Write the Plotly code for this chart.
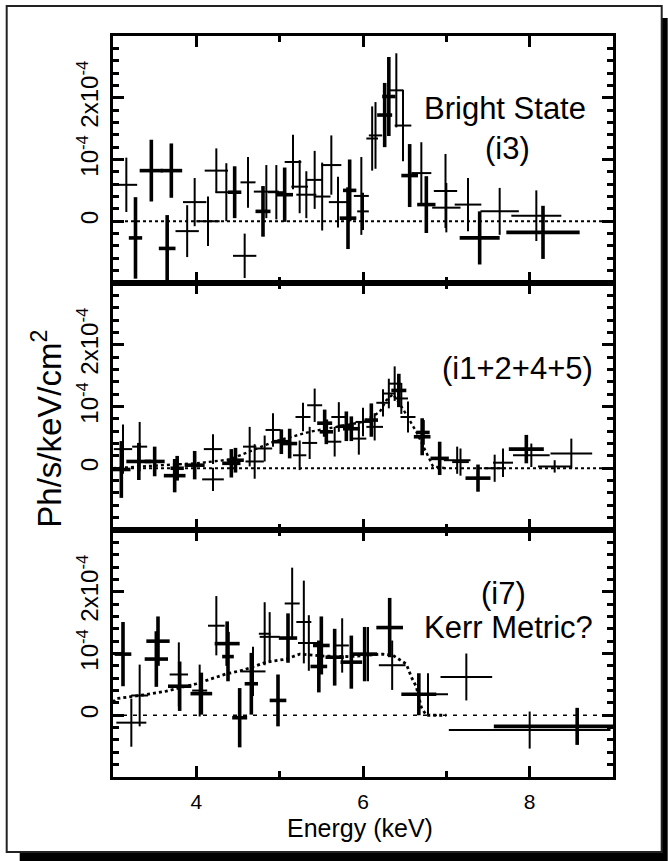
import plotly.graph_objects as go
from plotly.subplots import make_subplots

SCALE = 1e-4  # y values below are in units of 1e-4 Ph/s/keV/cm^2

# ---------------- Panel 1 : Bright State (i3) ----------------
p1_thin_x = [3.16, 3.89, 3.98, 4.14, 4.24, 4.36, 4.62, 4.58, 4.84, 4.96, 5.16, 5.24, 5.32, 5.42, 5.51,
             5.62, 5.70, 5.98, 6.00, 6.11, 6.15, 6.40, 6.48, 6.70, 6.99, 7.00, 7.26, 7.64, 8.08]
p1_thin_xerr = [0.13, 0.14, 0.14, 0.14, 0.14, 0.13, 0.09, 0.14, 0.15, 0.10, 0.10, 0.10, 0.12, 0.10, 0.10,
                0.12, 0.11, 0.09, 0.07, 0.07, 0.08, 0.08, 0.10, 0.12, 0.14, 0.17, 0.16, 0.23, 0.30]
p1_thin_y = [0.59, -0.16, 0.31, 0.00, 0.82, 0.47, 0.63, -0.56, 0.48, 0.47, 0.96, 0.56, 0.43, 0.67, 0.40,
             0.91, 0.31, 0.41, 0.16, 1.34, 1.39, 2.12, 1.55, 0.78, 0.49, 0.22, 0.27, 0.16, 0.09]
p1_thin_yerr = [0.44, 0.42, 0.39, 0.40, 0.36, 0.47, 0.41, 0.36, 0.43, 0.44, 0.44, 0.43, 0.38, 0.47, 0.55,
                0.48, 0.41, 0.63, 0.30, 0.52, 0.54, 0.60, 0.58, 0.50, 0.60, 0.40, 0.43, 0.38, 0.41]

p1_thick_x = [3.27, 3.46, 3.70, 3.65, 4.46, 4.80, 5.06, 5.82, 5.84, 6.26, 6.31, 6.56, 6.76, 7.40, 8.16]
p1_thick_xerr = [0.08, 0.14, 0.13, 0.10, 0.08, 0.09, 0.10, 0.10, 0.08, 0.09, 0.08, 0.10, 0.11, 0.24, 0.44]
p1_thick_y = [-0.27, 0.82, 0.82, -0.44, 0.47, 0.16, 0.43, 0.05, 0.50, 1.72, 2.02, 0.74, 0.27, -0.27, -0.18]
p1_thick_yerr = [0.66, 0.50, 0.44, 0.54, 0.42, 0.41, 0.44, 0.50, 0.50, 0.52, 0.64, 0.51, 0.46, 0.43, 0.43]

# ---------------- Panel 2 : (i1+2+4+5) ----------------
p2_thin_x = [3.12, 3.32, 4.20, 4.20, 4.64, 4.70, 4.82, 4.92, 5.24, 5.28, 5.42, 5.36, 5.66, 5.71, 5.95,
             6.00, 6.14, 6.24, 6.31, 6.38, 6.46, 6.54, 7.13, 7.17, 7.58, 7.68, 8.02, 8.30, 8.50]
p2_thin_xerr = [0.11, 0.09, 0.11, 0.13, 0.08, 0.11, 0.09, 0.09, 0.08, 0.09, 0.09, 0.09, 0.08, 0.09, 0.09,
                0.09, 0.10, 0.08, 0.08, 0.08, 0.08, 0.09, 0.16, 0.10, 0.13, 0.12, 0.22, 0.20, 0.25]
p2_thin_y = [0.31, 0.35, 0.31, -0.18, 0.35, 0.11, 0.32, 0.62, 0.21, 0.83, 1.02, 0.41, 0.43, 0.83, 0.48,
             0.75, 0.67, 1.06, 1.21, 1.37, 1.13, 0.83, 0.13, 0.10, 0.00, 0.09, 0.21, 0.03, 0.24]
p2_thin_yerr = [0.40, 0.40, 0.24, 0.19, 0.32, 0.28, 0.21, 0.27, 0.24, 0.23, 0.27, 0.26, 0.24, 0.24, 0.26,
                0.23, 0.22, 0.22, 0.24, 0.28, 0.25, 0.25, 0.22, 0.22, 0.22, 0.23, 0.19, 0.10, 0.24]

p2_thick_x = [3.10, 3.31, 3.50, 3.74, 3.77, 3.98, 4.42, 4.47, 5.02, 5.12, 5.54, 5.56, 5.80, 5.86, 6.10,
              6.43, 6.71, 6.72, 6.92, 7.38, 7.96]
p2_thick_xerr = [0.11, 0.15, 0.12, 0.13, 0.08, 0.12, 0.11, 0.10, 0.10, 0.09, 0.09, 0.08, 0.09, 0.10, 0.08,
                 0.09, 0.10, 0.08, 0.11, 0.15, 0.21]
p2_thick_y = [-0.02, 0.11, 0.11, -0.12, 0.00, 0.05, 0.08, 0.13, 0.43, 0.40, 0.73, 0.59, 0.68, 0.64, 0.78,
              1.26, 0.51, 0.58, 0.16, -0.16, 0.31]
p2_thick_yerr = [0.46, 0.30, 0.24, 0.27, 0.20, 0.23, 0.23, 0.20, 0.20, 0.24, 0.22, 0.20, 0.24, 0.20, 0.27,
                 0.27, 0.30, 0.20, 0.27, 0.22, 0.23]

p2_model_x = [3.0, 3.3, 3.6, 4.0, 4.4, 4.69, 4.93, 5.36, 5.68, 6.0, 6.2, 6.28, 6.36, 6.48, 6.64, 6.76, 6.84, 7.0]
p2_model_y = [0.0, 0.02, 0.05, 0.08, 0.14, 0.30, 0.43, 0.59, 0.67, 0.75, 0.91, 1.10, 1.20, 0.96, 0.59, 0.27, 0.03, 0.0]

# ---------------- Panel 3 : (i7) Kerr Metric? ----------------
p3_thin_x = [3.22, 3.32, 3.79, 4.04, 4.24, 4.68, 4.82, 4.88, 5.15, 5.29, 5.35, 5.75, 6.06, 6.35, 6.78, 7.24, 8.00]
p3_thin_xerr = [0.18, 0.10, 0.11, 0.09, 0.10, 0.15, 0.07, 0.12, 0.09, 0.09, 0.13, 0.08, 0.08, 0.16, 0.24, 0.31, 0.97]
p3_thin_y = [-0.12, 0.32, 0.66, 0.40, 1.45, 0.71, 1.32, 1.27, 1.81, 1.51, 1.17, 1.13, 0.99, 0.81, 0.34, 0.62, -0.24]
p3_thin_yerr = [0.39, 0.50, 0.52, 0.42, 0.48, 0.40, 0.51, 0.40, 0.58, 0.67, 0.45, 0.44, 0.44, 0.40, 0.34, 0.38, 0.30]

p3_thick_x = [3.12, 3.54, 3.52, 3.80, 4.06, 4.37, 4.38, 4.52, 4.66, 4.98, 5.10, 5.47, 5.50, 5.66, 5.86,
              6.02, 6.32, 6.67, 8.57]
p3_thick_xerr = [0.10, 0.14, 0.14, 0.14, 0.13, 0.15, 0.07, 0.09, 0.08, 0.10, 0.11, 0.10, 0.10, 0.11, 0.13,
                 0.15, 0.16, 0.21, 1.00]
p3_thick_y = [0.99, 1.20, 0.91, 0.47, 0.35, 1.16, 0.95, -0.04, 0.51, 0.24, 1.25, 0.79, 1.13, 0.94, 0.86,
              0.99, 1.42, 0.34, -0.18]
p3_thick_yerr = [0.52, 0.40, 0.45, 0.40, 0.34, 0.36, 0.40, 0.48, 0.50, 0.42, 0.40, 0.42, 0.47, 0.46, 0.43,
                 0.44, 0.48, 0.34, 0.30]

p3_model_x = [3.0, 3.04, 3.32, 3.64, 4.0, 4.36, 4.56, 4.84, 5.08, 5.24, 5.5, 5.84, 6.24, 6.36, 6.52, 6.58,
              6.64, 6.70, 6.76, 7.0]
p3_model_y = [0.21, 0.27, 0.32, 0.39, 0.51, 0.67, 0.73, 0.86, 0.91, 0.99, 0.96, 0.95, 0.99, 0.97, 0.83, 0.62,
              0.46, 0.13, 0.0, 0.0]

zero_x = [3.0, 9.0]
zero_y = [0.0, 0.0]

x_ticks = [4, 6, 8]
x_ticktext = ["4", "6", "8"]
y_ticks = [0, 1, 2]
y_ticktext = ["0", "10<sup>-4</sup>", "2x10<sup>-4</sup>"]

panel_labels = [["Bright State", "(i3)"], ["(i1+2+4+5)"], ["(i7)", "Kerr Metric?"]]

FONT = "Liberation Sans"
XTICK_FONT = dict(family=FONT, size=21, color="black")
YTICK_FONT = dict(family=FONT, size=24, color="black")

fig = make_subplots(rows=3, cols=1, shared_xaxes=True, vertical_spacing=0)


def s(vals):
    return [v * SCALE for v in vals]


def add_points(row, x, xe, y, ye, w):
    fig.add_trace(go.Scatter(
        x=x, y=s(y), mode="markers",
        marker=dict(size=1, color="black", opacity=0),
        error_x=dict(type="data", array=xe, visible=True, color="black", thickness=w, width=0),
        error_y=dict(type="data", array=s(ye), visible=True, color="black", thickness=w, width=0),
        showlegend=False, hoverinfo="skip"), row=row, col=1)


def add_line(row, x, y, dash, w):
    fig.add_trace(go.Scatter(x=x, y=s(y), mode="lines",
                             line=dict(color="black", dash=dash, width=w),
                             showlegend=False, hoverinfo="skip"), row=row, col=1)


# zero lines
add_line(1, zero_x, zero_y, "dot", 2.2)
add_line(2, zero_x, zero_y, "dot", 1.8)
add_line(3, zero_x, zero_y, "4px,6px", 1.6)
# models
add_line(2, p2_model_x, p2_model_y, "dot", 2.4)
add_line(3, p3_model_x, p3_model_y, "dot", 2.8)

add_points(1, p1_thin_x, p1_thin_xerr, p1_thin_y, p1_thin_yerr, 2.0)
add_points(1, p1_thick_x, p1_thick_xerr, p1_thick_y, p1_thick_yerr, 3.6)
add_points(2, p2_thin_x, p2_thin_xerr, p2_thin_y, p2_thin_yerr, 2.0)
add_points(2, p2_thick_x, p2_thick_xerr, p2_thick_y, p2_thick_yerr, 3.6)
add_points(3, p3_thin_x, p3_thin_xerr, p3_thin_y, p3_thin_yerr, 2.0)
add_points(3, p3_thick_x, p3_thick_xerr, p3_thick_y, p3_thick_yerr, 3.6)

axis_updates = {}
for r in (1, 2, 3):
    suffix = "" if r == 1 else str(r)
    axis_updates["xaxis" + suffix] = dict(
        range=[3, 9], tickmode="array", tickvals=x_ticks, ticktext=x_ticktext,
        ticks="inside", ticklen=11, tickwidth=2.5, tickcolor="black",
        minor=dict(tickvals=[3, 5, 7, 9], ticks="inside", ticklen=6, tickwidth=2.5, tickcolor="black"),
        showline=True, linewidth=2.5, linecolor="black", mirror="allticks",
        showgrid=False, zeroline=False, showticklabels=(r == 3),
        tickfont=XTICK_FONT, ticklabelstandoff=4)
    axis_updates["yaxis" + suffix] = dict(
        range=[-1e-4, 3e-4], tickmode="array", tickvals=s(y_ticks), ticktext=y_ticktext,
        tickangle=-90,
        ticks="inside", ticklen=11, tickwidth=2.5, tickcolor="black",
        minor=dict(dtick=0.2e-4, tick0=0, ticks="inside", ticklen=6, tickwidth=2.5, tickcolor="black"),
        showline=True, linewidth=2.5, linecolor="black", mirror="allticks",
        showgrid=False, zeroline=False,
        tickfont=YTICK_FONT, ticklabelstandoff=3)
fig.update_layout(**axis_updates)

# pixel -> paper helpers (plot area 113..613 x 36..777)
L, R, T, B = 113.3, 613.3, 36.0, 777.0


def px(xp):
    return (xp - L) / (R - L)


def py(yp):
    return (B - yp) / (B - T)


ann_pos = [[(7.70, 1.83), (7.73, 1.18)], [(7.85, 1.62)], [(7.68, 1.97), (7.74, 1.42)]]
annotations = []
for i, (labels, poses) in enumerate(zip(panel_labels, ann_pos)):
    xr = "x" if i == 0 else f"x{i+1}"
    yr = "y" if i == 0 else f"y{i+1}"
    for lab, (ax, ay) in zip(labels, poses):
        annotations.append(dict(text=lab, x=ax, y=ay * SCALE, xref=xr, yref=yr, showarrow=False,
                                xanchor="center", yanchor="middle",
                                font=dict(family=FONT, size=31, color="black")))

annotations.append(dict(text="Ph/s/keV/cm<sup>2</sup>", x=px(47), y=py(429), xref="paper", yref="paper",
                        showarrow=False, textangle=-90, xanchor="center", yanchor="middle",
                        font=dict(family=FONT, size=33, color="black")))
annotations.append(dict(text="Energy (keV)", x=px(360), y=py(828), xref="paper", yref="paper",
                        showarrow=False, xanchor="center", yanchor="middle",
                        font=dict(family=FONT, size=25, color="black")))

shapes = [
    dict(type="rect", xref="paper", yref="paper", x0=px(20), x1=px(668), y0=py(861), y1=py(18),
         fillcolor="black", line=dict(width=0), layer="below"),
    dict(type="rect", xref="paper", yref="paper", x0=px(7), x1=px(662), y0=py(852), y1=py(6),
         fillcolor="white", line=dict(color="#222222", width=2), layer="below"),
]

fig.update_layout(width=668, height=861,
                  margin=dict(l=113, r=55, t=36, b=84),
                  paper_bgcolor="white", plot_bgcolor="rgba(0,0,0,0)",
                  annotations=annotations, shapes=shapes,
                  font=dict(family=FONT, size=20, color="black"))

fig.write_html("out.html")
